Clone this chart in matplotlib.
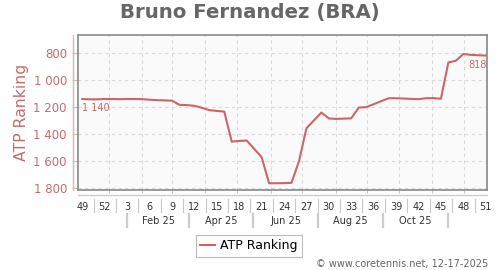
import numpy as np
import matplotlib
matplotlib.use('Agg')
import matplotlib.pyplot as plt
from matplotlib.ticker import FuncFormatter

# weekly ATP ranking, week 49/2024 .. week 51/2025
ranking = [1140, 1142, 1142, 1140, 1140, 1141, 1140, 1140, 1141, 1145,
           1148, 1150, 1152, 1183, 1185, 1190, 1205, 1222, 1228, 1233,
           1455, 1450, 1447, 1508, 1570, 1763, 1763, 1762, 1760, 1600,
           1356, 1298, 1240, 1284, 1287, 1285, 1283, 1203, 1200, 1178,
           1156, 1134, 1134, 1136, 1139, 1141, 1134, 1133, 1138, 869,
           857, 807, 813, 816, 818]
week_labels = ['49', '52', '3', '6', '9', '12', '15', '18', '21', '24',
               '27', '30', '33', '36', '39', '42', '45', '48', '51']
month_labels = ['Feb 25', 'Apr 25', 'Jun 25', 'Aug 25', 'Oct 25']
month_seps = [6.0, 14.3, 22.9, 31.6, 40.2, 48.9]
month_grid = [3.6, 8.0, 12.05, 16.4, 20.75, 25.2, 29.45, 33.9, 38.15, 42.4, 46.8, 51.1]
y_ticks = [800, 1000, 1200, 1400, 1600, 1800]

red = '#cc6666'
txt_red = '#c96a6a'
grey = '#666666'

weeks = np.arange(len(ranking))

fig = plt.figure(figsize=(5, 2.7), dpi=100)
ax = fig.add_axes([0.156, 0.2963, 0.818, 0.5737])
ax.set_facecolor('#fafafa')

ax.plot(weeks, ranking, color=red, lw=1.5, label='ATP Ranking', zorder=3)

ax.set_ylim(1813, 667)
ax.set_xlim(-0.58, 54.17)

ax.set_yticks(y_ticks)
ax.yaxis.set_major_formatter(FuncFormatter(lambda v, p: f'{int(v):,}'.replace(',', ' ')))
ax.tick_params(axis='y', colors='#e0b4b4', labelcolor=txt_red, labelsize=8.5, length=4, pad=4)
ax.grid(axis='y', color='#d9d9d9', ls=(0, (3, 3)), lw=0.8)

ax.set_xticks(weeks[::3])
ax.set_xticklabels(week_labels)
ax.tick_params(axis='x', which='major', length=0, labelsize=7, labelcolor='#333333', pad=9)
ax.set_xticks(month_grid, minor=True)
ax.tick_params(axis='x', which='minor', length=2, color='#bbbbbb')
ax.grid(axis='x', which='minor', color='#d9d9d9', ls=(0, (3, 3)), lw=0.8)

for s in ax.spines.values():
    s.set_color('#888888')
    s.set_linewidth(1.2)

ax.set_ylabel('ATP Ranking', color=txt_red, fontsize=11.3, labelpad=3)

# y axis line offset from the plot
ax.plot([-0.0122, -0.0122], [0, 1], transform=ax.transAxes, color='#e0b4b4',
        lw=1, clip_on=False)
# x axis line under the plot
ax.plot([0, 1], [-0.032, -0.032], transform=ax.transAxes, color='#cccccc',
        lw=1, clip_on=False)

xt = ax.get_xaxis_transform()
for i in range(len(week_labels) - 1):
    xs = i * 3 + 1.5
    ax.plot([xs, xs], [-0.055, -0.14], transform=xt, color='#c8c8c8', lw=0.8, clip_on=False)
for xs in month_seps:
    ax.plot([xs, xs], [-0.158, -0.24], transform=xt, color='#cccccc', lw=1.6, clip_on=False)
for lab, a, b in zip(month_labels, month_seps[:-1], month_seps[1:]):
    ax.text((a + b) / 2, -0.198, lab, transform=xt, ha='center', va='center',
            fontsize=7, color='#333333')

ax.annotate(f'{ranking[0]:,}'.replace(',', ' '), (weeks[0], ranking[0]), xytext=(0, -9),
            textcoords='offset pixels', ha='left', va='center', fontsize=7, color=txt_red)
ax.annotate(str(ranking[-1]), (weeks[-1], ranking[-1]), xytext=(1, -9),
            textcoords='offset pixels', ha='right', va='center', fontsize=7, color=txt_red)

fig.text(0.5, 0.955, 'Bruno Fernandez (BRA)', ha='center', va='center',
         fontsize=14.2, fontweight='bold', color=grey)

leg = fig.legend(loc='center', bbox_to_anchor=(0.498, 0.089), fontsize=9,
                 handlelength=1.2, handletextpad=0.4, borderpad=0.35,
                 fancybox=False, framealpha=1)
leg.get_frame().set_edgecolor('#bbbbbb')
leg.get_frame().set_linewidth(0.8)

fig.text(0.976, 0.022, '\u00a9 www.coretennis.net, 12-17-2025', ha='right', va='center',
         fontsize=7, color=grey)

fig.savefig('out.png', dpi=100)
